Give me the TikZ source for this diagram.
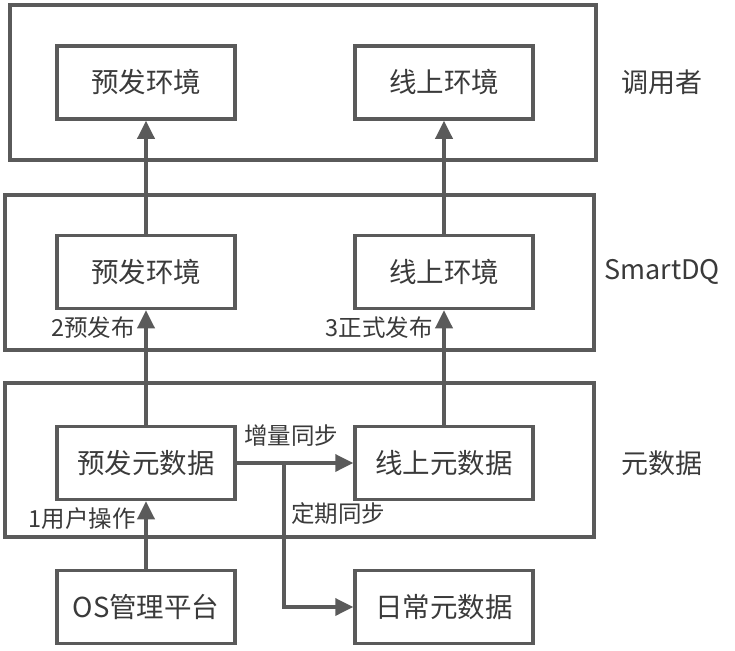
\documentclass[tikz,border=0pt]{standalone}
\usepackage{fontspec}
\setmainfont{Noto Sans CJK SC}
\usepackage{tikz}
\usetikzlibrary{arrows.meta}
\definecolor{gline}{HTML}{5A5A5A}
\definecolor{gtext}{HTML}{3A3A3A}
\tikzset{
  grp/.style={draw=gline, line width=3.5pt, minimum width=588pt, minimum height=155pt, inner sep=0pt},
  box/.style={draw=gline, line width=3.5pt, minimum width=178pt, minimum height=73pt, inner sep=0pt, text=gtext, font=\fontsize{27.5}{31}\selectfont},
  flow/.style={draw=gline, line width=3.5pt, -{Triangle[length=18pt,width=17pt]}},
  lab/.style={text=gtext, font=\fontsize{23.5}{27}\selectfont, inner sep=1pt},
  side/.style={text=gtext, font=\fontsize{27}{31}\selectfont},
}

\begin{document}
\begin{tikzpicture}[x=1pt,y=-1pt]
  \useasboundingbox (0,0) rectangle (735,650);
  % layers
  \node[grp, minimum width=586pt] (callers) at (303,82.5) {};
  \node[grp, minimum width=589pt] (smartdq) at (299.5,272.5) {};
  \node[grp, minimum width=589pt, minimum height=154pt] (meta) at (299.5,460) {};
  \node[side] (callerslab) at (662,82) {调用者};
  \node[side] (smartdqlab) at (662,272) {SmartDQ};
  \node[side] (metalab) at (662,463) {元数据};
  % boxes
  \node[box] (callpre) at (146,82.5) {预发环境};
  \node[box] (callon) at (444,82.5) {线上环境};
  \node[box] (dqpre) at (146,272) {预发环境};
  \node[box] (dqon) at (444,272) {线上环境};
  \node[box] (metapre) at (146,463) {预发元数据};
  \node[box] (metaon) at (444,463) {线上元数据};
  \node[box] (os) at (146,607) {OS管理平台};
  \node[box] (daily) at (444,607) {日常元数据};
  \coordinate (fork) at (284,463);
  % flows
  \foreach \A/\B in {os/metapre,metapre/dqpre,dqpre/callpre,metaon/dqon,dqon/callon,metapre/metaon}
    \draw[flow] (\A) -- (\B);
  \draw[flow] (fork) |- (daily);
  \node[lab, anchor=east] (step1) at (137,519) {1用户操作};
  \node[lab, anchor=east] (step2) at (136,328) {2预发布};
  \node[lab, anchor=east] (step3) at (434,328) {3正式发布};
  \node[lab] (incsync) at (291,436) {增量同步};
  \node[lab] (fullsync) at (338,514) {定期同步};
\end{tikzpicture}
\end{document}
